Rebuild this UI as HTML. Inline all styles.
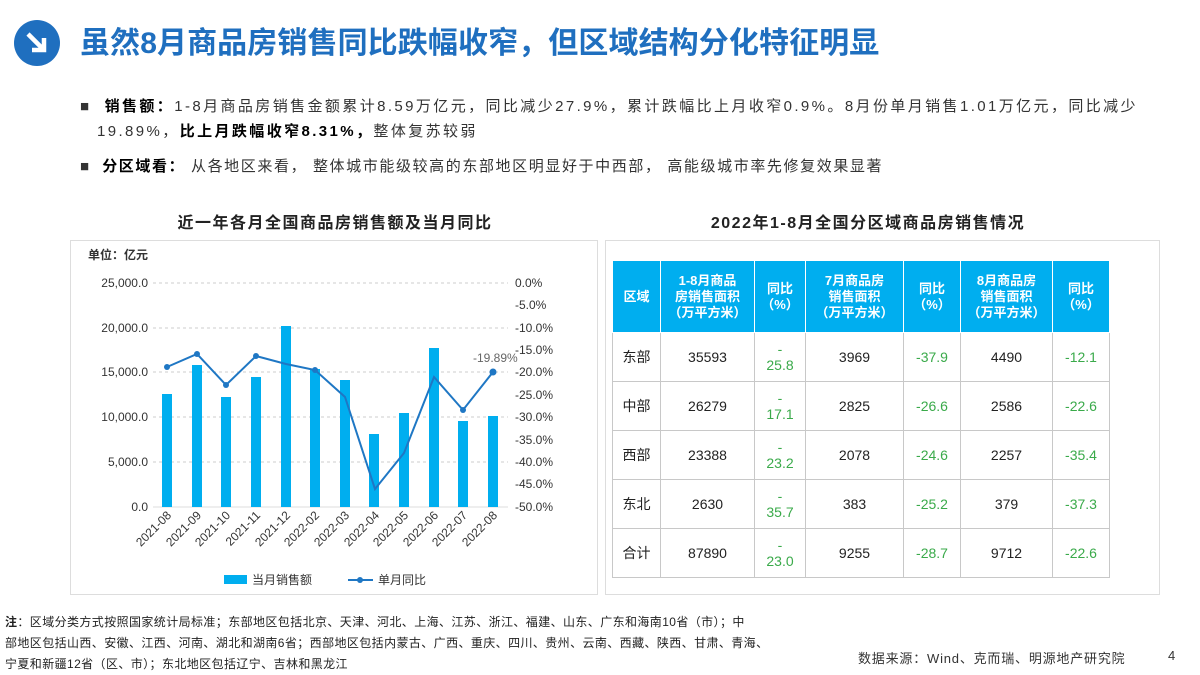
<!DOCTYPE html>
<html><head><meta charset="utf-8"><style>
body{margin:0;width:1200px;height:675px;background:#fff;position:relative;overflow:hidden;font-family:"Liberation Sans","Noto Sans CJK SC",sans-serif;}
.a{position:absolute;white-space:nowrap}
table{position:absolute;left:612px;top:260px;border-collapse:collapse;font-size:14px;color:#222}
td,th{border:1px solid #c8c8c8;text-align:center;padding:0}
th{background:#00aeef;color:#fff;font-size:13px;font-weight:bold;line-height:16px;border-color:#fff;height:71px}
td{height:48px}
.g{color:#3aaa4a}
</style></head><body>
<svg class="a" style="left:0;top:0" width="1200" height="675">
<circle cx="37" cy="43" r="23" fill="#1f6fbf"/>
<path d="M28 34 L44 50 M44 38 L44 50 L32 50" stroke="#fff" stroke-width="4.5" fill="none"/>
<rect x="70.5" y="240.5" width="527" height="354" fill="none" stroke="#ddd"/>
<rect x="605.5" y="240.5" width="554" height="354" fill="none" stroke="#ddd"/>
<g stroke="#ccc" stroke-dasharray="3,3">
<line x1="153" x2="508" y1="283" y2="283"/><line x1="153" x2="508" y1="328" y2="328"/><line x1="153" x2="508" y1="372" y2="372"/><line x1="153" x2="508" y1="417" y2="417"/><line x1="153" x2="508" y1="462" y2="462"/></g>
<line x1="153" x2="508" y1="507" y2="507" stroke="#ddd"/>
<g fill="#00aeef">
<rect x="162" y="394" width="10" height="113"/><rect x="192" y="365" width="10" height="142"/><rect x="221" y="397" width="10" height="110"/><rect x="251" y="377" width="10" height="130"/><rect x="281" y="326" width="10" height="181"/><rect x="310" y="369" width="10" height="138"/><rect x="340" y="380" width="10" height="127"/><rect x="369" y="434" width="10" height="73"/><rect x="399" y="413" width="10" height="94"/><rect x="429" y="348" width="10" height="159"/><rect x="458" y="421" width="10" height="86"/><rect x="488" y="416" width="10" height="91"/></g>
<polyline fill="none" stroke="#1f77c4" stroke-width="2" points="167,367 197,354 226,385 256,356 286,364 315,370 345,397 375,489 404,453 434,377 463,410 493,372"/>
<g fill="#1f77c4"><circle cx="167" cy="367" r="3"/><circle cx="197" cy="354" r="3"/><circle cx="226" cy="385" r="3"/><circle cx="256" cy="356" r="3"/><circle cx="315" cy="370" r="3"/><circle cx="463" cy="410" r="3"/><circle cx="493" cy="372" r="3.5"/></g>
<g font-size="12" fill="#333" text-anchor="end">
<text x="148" y="287">25,000.0</text><text x="148" y="332">20,000.0</text><text x="148" y="376">15,000.0</text><text x="148" y="421">10,000.0</text><text x="148" y="466">5,000.0</text><text x="148" y="511">0.0</text></g>
<g font-size="12" fill="#333">
<text x="515" y="287">0.0%</text><text x="515" y="309">-5.0%</text><text x="515" y="332">-10.0%</text><text x="515" y="354">-15.0%</text><text x="515" y="376">-20.0%</text><text x="515" y="399">-25.0%</text><text x="515" y="421">-30.0%</text><text x="515" y="444">-35.0%</text><text x="515" y="466">-40.0%</text><text x="515" y="488">-45.0%</text><text x="515" y="511">-50.0%</text>
<text x="473" y="362" fill="#666">-19.89%</text></g>
<g font-size="12" fill="#333" text-anchor="end">
<text transform="translate(172,516) rotate(-45)">2021-08</text><text transform="translate(202,516) rotate(-45)">2021-09</text><text transform="translate(231,516) rotate(-45)">2021-10</text><text transform="translate(261,516) rotate(-45)">2021-11</text><text transform="translate(291,516) rotate(-45)">2021-12</text><text transform="translate(320,516) rotate(-45)">2022-02</text><text transform="translate(350,516) rotate(-45)">2022-03</text><text transform="translate(380,516) rotate(-45)">2022-04</text><text transform="translate(409,516) rotate(-45)">2022-05</text><text transform="translate(439,516) rotate(-45)">2022-06</text><text transform="translate(468,516) rotate(-45)">2022-07</text><text transform="translate(498,516) rotate(-45)">2022-08</text></g>
<rect x="224" y="575" width="23" height="9" fill="#00aeef"/>
<text x="252" y="584" font-size="12" fill="#333">当月销售额</text>
<line x1="348" x2="373" y1="580" y2="580" stroke="#1f77c4" stroke-width="2"/><circle cx="360" cy="580" r="3" fill="#1f77c4"/>
<text x="378" y="584" font-size="12" fill="#333">单月同比</text>
<text x="88" y="259" font-size="12" font-weight="bold" fill="#333">单位：亿元</text>
</svg>
<div class="a" style="left:80px;top:18px;font-size:30px;font-weight:bold;color:#1f6fbf;letter-spacing:0.1px">虽然8月商品房销售同比跌幅收窄，但区域结构分化特征明显</div>
<div class="a" style="left:80px;top:94px;font-size:15px;color:#333;line-height:25px;letter-spacing:2.4px">
<div>■&nbsp;&nbsp;<b style="color:#000">销售额：</b>1-8月商品房销售金额累计8.59万亿元，同比减少27.9%，累计跌幅比上月收窄0.9%。8月份单月销售1.01万亿元，同比减少</div>
<div style="padding-left:17px">19.89%，<b style="color:#000">比上月跌幅收窄8.31%，</b>整体复苏较弱</div>
<div style="margin-top:10px;letter-spacing:1.6px">■&nbsp;&nbsp;<b style="color:#000">分区域看：</b> 从各地区来看， 整体城市能级较高的东部地区明显好于中西部， 高能级城市率先修复效果显著</div></div>
<div class="a" style="left:160px;top:209px;width:350px;text-align:center;font-size:16px;font-weight:bold;color:#222;letter-spacing:1.5px">近一年各月全国商品房销售额及当月同比</div>
<div class="a" style="left:668px;top:209px;width:400px;text-align:center;font-size:16px;font-weight:bold;color:#222;letter-spacing:1.5px">2022年1-8月全国分区域商品房销售情况</div>
<table>
<tr><th style="width:47px">区域</th><th style="width:93px">1-8月商品<br>房销售面积<br>（万平方米）</th><th style="width:50px">同比<br>（%）</th><th style="width:97px">7月商品房<br>销售面积<br>（万平方米）</th><th style="width:56px">同比<br>（%）</th><th style="width:91px">8月商品房<br>销售面积<br>（万平方米）</th><th style="width:56px">同比<br>（%）</th></tr>
<tr><td>东部</td><td>35593</td><td class="g">-<br>25.8</td><td>3969</td><td class="g">-37.9</td><td>4490</td><td class="g">-12.1</td></tr>
<tr><td>中部</td><td>26279</td><td class="g">-<br>17.1</td><td>2825</td><td class="g">-26.6</td><td>2586</td><td class="g">-22.6</td></tr>
<tr><td>西部</td><td>23388</td><td class="g">-<br>23.2</td><td>2078</td><td class="g">-24.6</td><td>2257</td><td class="g">-35.4</td></tr>
<tr><td>东北</td><td>2630</td><td class="g">-<br>35.7</td><td>383</td><td class="g">-25.2</td><td>379</td><td class="g">-37.3</td></tr>
<tr><td>合计</td><td>87890</td><td class="g">-<br>23.0</td><td>9255</td><td class="g">-28.7</td><td>9712</td><td class="g">-22.6</td></tr>
</table>
<div class="a" style="left:5px;top:612px;font-size:12px;color:#222;line-height:21px;letter-spacing:0.4px">
<div><b>注</b>：区域分类方式按照国家统计局标准；东部地区包括北京、天津、河北、上海、江苏、浙江、福建、山东、广东和海南10省（市）；中</div>
<div>部地区包括山西、安徽、江西、河南、湖北和湖南6省；西部地区包括内蒙古、广西、重庆、四川、贵州、云南、西藏、陕西、甘肃、青海、</div>
<div>宁夏和新疆12省（区、市）；东北地区包括辽宁、吉林和黑龙江</div></div>
<div class="a" style="left:858px;top:648px;font-size:13px;color:#333;letter-spacing:0.8px">数据来源：Wind、克而瑞、明源地产研究院</div>
<div class="a" style="left:1168px;top:648px;font-size:13px;color:#333">4</div>
</body></html>
